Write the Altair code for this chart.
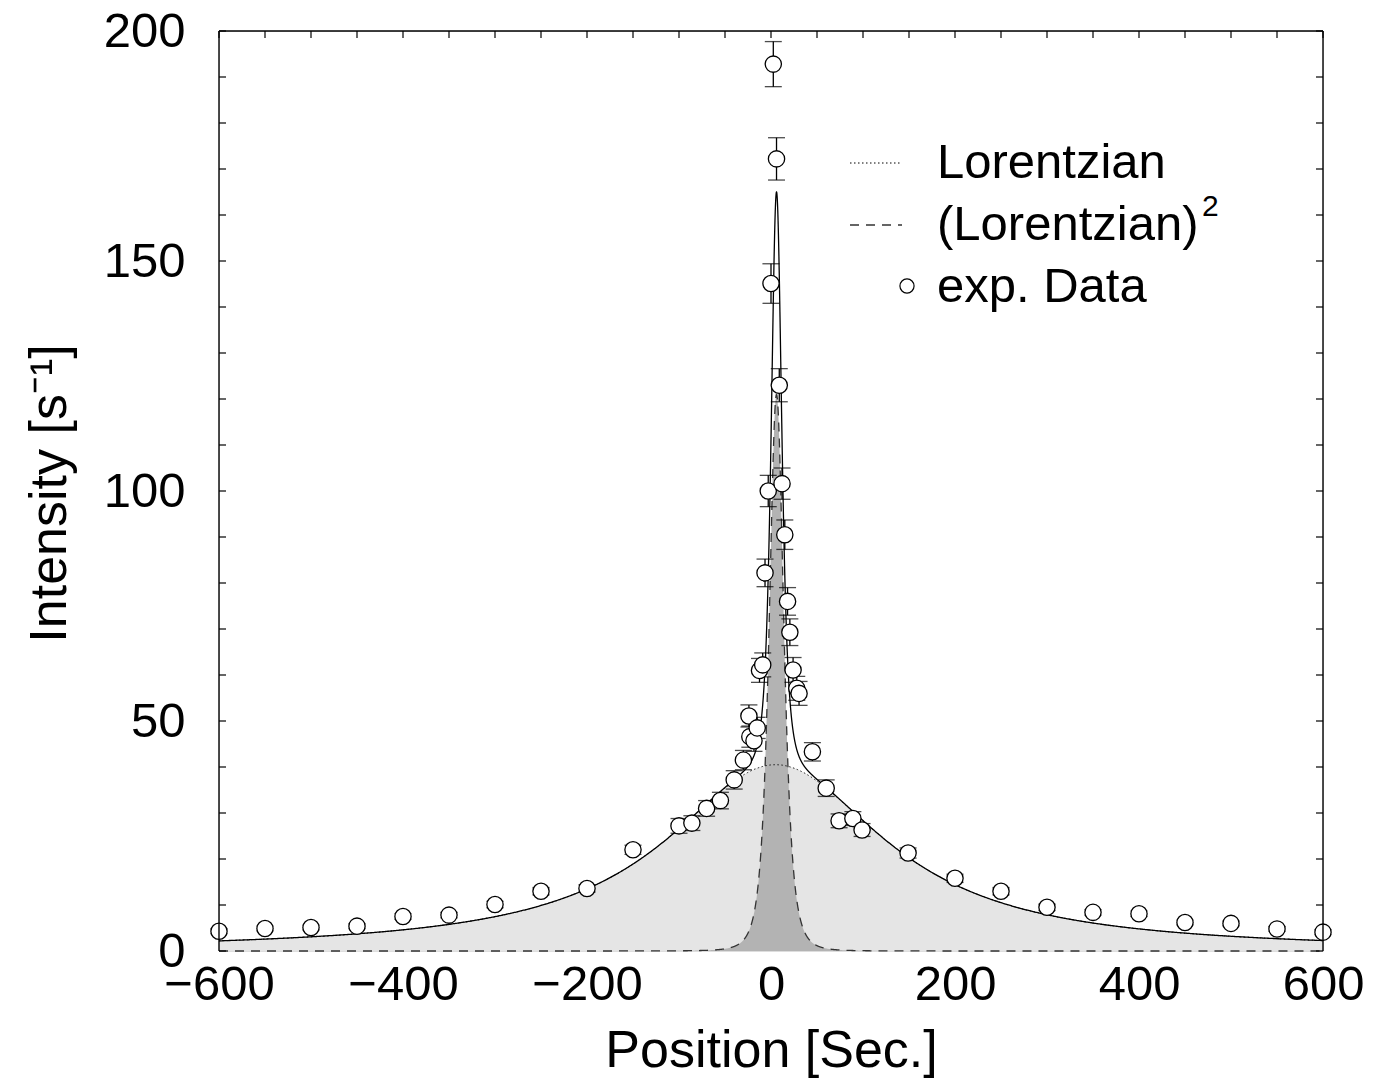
import altair as alt
import numpy as np
import pandas as pd

FONT = "Liberation Sans"

pos = [-600, -550, -500, -450, -400, -350, -300, -250, -200, -150, -100, -86, -70, -55,
       -40, -30, -24, -23, -18.5, -15, -12.5, -9, -6.5, -3, 0, 2.5, 6, 9, 12, 15, 18, 20.5,
       24, 28, 30.5, 45, 60, 74, 89, 99, 149, 200, 250, 300, 350, 400, 450, 500, 550, 600]
intensity = [4.3, 4.9, 5.1, 5.4, 7.5, 7.8, 10.1, 13.0, 13.6, 22.0, 27.2, 27.8, 31.0, 32.7,
             37.2, 41.5, 51.1, 46.6, 45.7, 48.5, 61.0, 62.2, 82.2, 100.0, 145.1, 192.8, 172.2,
             123.0, 101.6, 90.5, 76.0, 69.3, 61.1, 57.1, 56.0, 43.3, 35.4, 28.3, 28.8, 26.3,
             21.3, 15.8, 13.0, 9.5, 8.4, 8.1, 6.2, 6.0, 4.8, 4.1]
error = [0.5, 0.5, 0.5, 0.5, 0.6, 0.6, 0.7, 0.8, 0.8, 1.0, 1.6, 1.6, 1.7, 1.8,
         2.0, 2.1, 2.4, 2.3, 2.3, 2.3, 2.6, 2.6, 3.0, 3.4, 4.3, 4.9, 4.6,
         3.6, 3.4, 3.2, 3.0, 2.9, 2.7, 2.6, 2.6, 2.0, 1.8, 1.5, 1.5, 1.4,
         1.1, 0.9, 0.8, 0.7, 0.6, 0.6, 0.5, 0.5, 0.5, 0.5]

# ---- fit parameters ----
LOR_AMP, LOR_CENTER, LOR_WIDTH = 40.5, 5.0, 145.0
LOR2_AMP, LOR2_CENTER, LOR2_WIDTH = 121.0, 6.0, 14.5
FIT_NARROW_AMP, FIT_NARROW_WIDTH = 124.5, 10.5

x_ticks = [-600, -400, -200, 0, 200, 400, 600]
y_ticks = [0, 50, 100, 150, 200]
minor_y = list(range(0, 201, 10))
minor_x = list(range(-600, 601, 50))

W, H = 1104, 920

xs = np.unique(np.concatenate([np.linspace(-600, 600, 1201), np.linspace(-80, 80, 1601)]))
lor = LOR_AMP / (1 + ((xs - LOR_CENTER) / LOR_WIDTH) ** 2)
lor2 = LOR2_AMP / (1 + ((xs - LOR2_CENTER) / LOR2_WIDTH) ** 2) ** 2
total = lor + FIT_NARROW_AMP / (1 + ((xs - LOR2_CENTER) / FIT_NARROW_WIDTH) ** 2) ** 2
curves = pd.DataFrame({"x": xs, "lor": lor, "lor2": lor2, "total": total})

pts = pd.DataFrame({"x": pos, "y": intensity, "e": error})
pts["lo"] = pts["y"] - pts["e"]
pts["hi"] = pts["y"] + pts["e"]

xsc = alt.Scale(domain=[-600, 600], nice=False, zero=False)
ysc = alt.Scale(domain=[0, 200], nice=False)

x_axis = alt.Axis(values=x_ticks, labelFontSize=49, labelFont=FONT, tickSize=0, domain=False,
                  grid=False, labelPadding=9, labelFlush=False, labelOverlap=False,
                  title="Position [Sec.]", titleFontSize=52, titleFont=FONT,
                  titleFontWeight="normal", titleBaseline="alphabetic", titleX=552, titleY=115,
                  titleAlign="center", labelColor="black", titleColor="black")
y_axis = alt.Axis(values=y_ticks, labelFontSize=49, labelFont=FONT, tickSize=0, domain=False,
                  grid=False, labelPadding=34, labelFlush=False, labelOverlap=False,
                  title="Intensity [s⁻¹]", titleFontSize=52, titleFont=FONT,
                  titleFontWeight="normal", titleBaseline="alphabetic", titleAngle=270,
                  titleX=-154, titleY=462, titleAlign="center",
                  labelColor="black", titleColor="black")


def X(field):
    return alt.X(field, type="quantitative", scale=xsc, axis=x_axis)


def Y(field):
    return alt.Y(field, type="quantitative", scale=ysc, axis=y_axis)


base = alt.Chart(curves)
light = base.mark_area(color="#e5e5e5", opacity=1).encode(x=X("x"), y=Y("lor"))
dark = base.mark_area(color="#b3b3b3", opacity=1).encode(x=X("x"), y=Y("lor2"))
dashed = base.mark_line(color="#333333", strokeWidth=1.3, strokeDash=[9, 7]).encode(
    x=X("x"), y=Y("lor2"))
dotted = base.mark_line(color="black", strokeWidth=1, strokeDash=[1.5, 2.5]).encode(
    x=X("x"), y=Y("lor"))
solid = base.mark_line(color="black", strokeWidth=1.3).encode(x=X("x"), y=Y("total"))

pbase = alt.Chart(pts)
ebar = pbase.mark_rule(color="black", strokeWidth=1.3).encode(x=X("x"), y=Y("lo"), y2="hi:Q")
cap_lo = pbase.mark_tick(color="black", orient="horizontal", size=17, thickness=1.3).encode(
    x=X("x"), y=Y("lo"))
cap_hi = pbase.mark_tick(color="black", orient="horizontal", size=17, thickness=1.3).encode(
    x=X("x"), y=Y("hi"))
circles = pbase.mark_point(shape="circle", filled=True, fill="white", stroke="black",
                           strokeWidth=1.3, size=265, opacity=1).encode(x=X("x"), y=Y("y"))

# ---- frame and inward ticks ----
one = pd.DataFrame({"k": [0]})
frame_left = alt.Chart(one).mark_rule(color="black", strokeWidth=1.4).encode(
    x=alt.value(0), y=alt.value(0), y2=alt.value(H))
frame_right = alt.Chart(one).mark_rule(color="black", strokeWidth=1.4).encode(
    x=alt.value(W), y=alt.value(0), y2=alt.value(H))
frame_top = alt.Chart(one).mark_rule(color="black", strokeWidth=1.4).encode(
    x=alt.value(0), x2=alt.value(W), y=alt.value(0))

ty = pd.DataFrame({"v": minor_y})
tx = pd.DataFrame({"v": minor_x})
ticks_left = alt.Chart(ty).mark_rule(color="black", strokeWidth=1.2).encode(
    y=Y("v"), x=alt.value(0), x2=alt.value(7))
ticks_right = alt.Chart(ty).mark_rule(color="black", strokeWidth=1.2).encode(
    y=Y("v"), x=alt.value(W - 7), x2=alt.value(W))
ticks_top = alt.Chart(tx).mark_rule(color="black", strokeWidth=1.2).encode(
    x=X("v"), y=alt.value(0), y2=alt.value(7))

# ---- legend ----
leg_dot = alt.Chart(one).mark_rule(color="black", strokeWidth=1, strokeDash=[1.5, 2.5]).encode(
    x=alt.value(631), x2=alt.value(683), y=alt.value(132))
leg_dash = alt.Chart(one).mark_rule(color="#333333", strokeWidth=1.3, strokeDash=[9, 7]).encode(
    x=alt.value(631), x2=alt.value(683), y=alt.value(194))
leg_pt = alt.Chart(one).mark_point(shape="circle", filled=True, fill="white", stroke="black",
                                   strokeWidth=1.2, size=200, opacity=1).encode(
    x=alt.value(688), y=alt.value(255))


def leg_text(t, x, y, size=49):
    return alt.Chart(one).mark_text(text=t, font=FONT, fontSize=size, align="left",
                                    baseline="middle", color="black").encode(
        x=alt.value(x), y=alt.value(y))


leg1 = leg_text("Lorentzian", 718, 132)
leg2 = leg_text("(Lorentzian)", 718, 194)
leg2s = leg_text("2", 983, 176, 30)
leg3 = leg_text("exp. Data", 718, 256)

chart = alt.layer(
    light, dark, dashed, dotted, solid,
    ebar, cap_lo, cap_hi, circles,
    frame_left, frame_right, frame_top, ticks_left, ticks_right, ticks_top,
    leg_dot, leg_dash, leg_pt, leg1, leg2, leg2s, leg3,
).properties(
    width=W, height=H,
    autosize=alt.AutoSizeParams(type="none"),
    padding={"left": 211, "top": 23, "right": 40, "bottom": 134},
).configure_view(strokeWidth=0).configure(background="white")

chart.save("out.html", embed_options={"renderer": "svg", "actions": False})
